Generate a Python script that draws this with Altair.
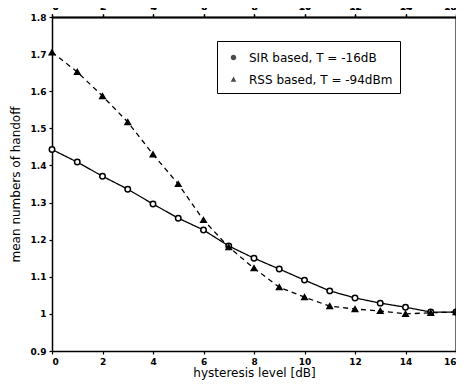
import altair as alt
import pandas as pd

x_vals = list(range(17))
sir = [1.443, 1.409, 1.371, 1.336, 1.296, 1.258, 1.226, 1.183, 1.150, 1.121,
       1.091, 1.062, 1.043, 1.029, 1.018, 1.005, 1.005]
rss = [1.705, 1.652, 1.587, 1.517, 1.430, 1.350, 1.253, 1.180, 1.123, 1.072,
       1.045, 1.021, 1.013, 1.008, 1.000, 1.003, 1.005]
labels = ["SIR based, T = -16dB", "RSS based, T = -94dBm"]
x_ticks = list(range(0, 17, 2))
y_ticks = [0.9, 1.0, 1.1, 1.2, 1.3, 1.4, 1.5, 1.6, 1.7, 1.8]

df = pd.DataFrame({
    "x": x_vals * 2,
    "y": sir + rss,
    "series": [labels[0]] * len(x_vals) + [labels[1]] * len(x_vals),
})

FONT = "DejaVu Sans"
xs = alt.Scale(domain=[0, 16], nice=False, zero=False)
ys = alt.Scale(domain=[0.9, 1.8], nice=False, zero=False)

lines = alt.Chart(df).mark_line(strokeWidth=1.3, color="black").encode(
    x=alt.X("x:Q", scale=xs,
            axis=alt.Axis(orient="bottom", values=x_ticks, title="hysteresis level [dB]", grid=False)),
    y=alt.Y("y:Q", scale=ys,
            axis=alt.Axis(orient="left", values=y_ticks, title="mean numbers of handoff", grid=False,
                          labelExpr="datum.value == 0.9 ? '0.9' : format(datum.value, '.1~f')")),
    strokeDash=alt.StrokeDash("series:N", scale=alt.Scale(domain=labels, range=[[1, 0], [5, 4]]),
                              legend=None),
    detail="series:N",
)

pts = alt.Chart(df).mark_point(size=30, filled=True, strokeWidth=1.5, opacity=1).encode(
    x=alt.X("x:Q", scale=xs),
    y=alt.Y("y:Q", scale=ys),
    shape=alt.Shape("series:N", scale=alt.Scale(domain=labels, range=["circle", "triangle-up"]),
                    legend=None),
    fill=alt.Fill("series:N", scale=alt.Scale(domain=labels, range=["white", "black"]), legend=None),
    stroke=alt.value("black"),
)

leg_paths = [
    "M-1,0H1M-0.32,0A0.32,0.32 0 1,1 0.32,0A0.32,0.32 0 1,1 -0.32,0Z",
    "M-1,0H-0.75M-0.55,0H-0.3M0.3,0H0.55M0.75,0H1M0,-0.35L0.32,0.25L-0.32,0.25Z",
]
leg = alt.Legend(title=None, orient="none", legendX=165, legendY=24,
                 strokeColor="black", fillColor="white", padding=7,
                 labelFont=FONT, labelFontSize=12, labelColor="black",
                 symbolStrokeColor="black", symbolFillColor="black", symbolStrokeWidth=1.2,
                 symbolSize=300, rowPadding=6, labelOffset=6)

legend_layer = alt.Chart(df).transform_filter("false").mark_point(
    filled=True, color="black", strokeWidth=1.2).encode(
    x=alt.X("x:Q", scale=xs),
    y=alt.Y("y:Q", scale=ys),
    shape=alt.Shape("series:N", scale=alt.Scale(domain=labels, range=leg_paths), legend=leg),
)

frame = alt.Chart(df).mark_point(opacity=0).encode(
    x=alt.X("x:Q", scale=xs, axis=alt.Axis(orient="top", labels=False, title=None,
                                            values=x_ticks, grid=False)),
    y=alt.Y("y:Q", scale=ys, axis=alt.Axis(orient="right", labels=False, title=None,
                                            values=y_ticks, grid=False)),
)

chart = alt.layer(lines, pts, legend_layer, frame).resolve_axis(
    x="independent", y="independent").resolve_scale(shape="independent").properties(
    width=404, height=334,
    autosize=alt.AutoSizeParams(type="none"),
    padding={"left": 44, "top": 9, "right": 0, "bottom": 30},
).configure_view(stroke=None).configure_axis(
    domainColor="black", domainWidth=1.5, tickColor="black", tickSize=3, tickWidth=1.2,
    labelFont=FONT, labelFontSize=9, labelFontWeight="bold", labelColor="black",
    titleFont=FONT, titleFontSize=12, titleFontWeight="normal", titleColor="black",
    labelPadding=3,
).configure_axisLeft(titlePadding=8).configure_axisBottom(titlePadding=1)

chart.save("out.html", embed_options={"renderer": "svg", "actions": False})
